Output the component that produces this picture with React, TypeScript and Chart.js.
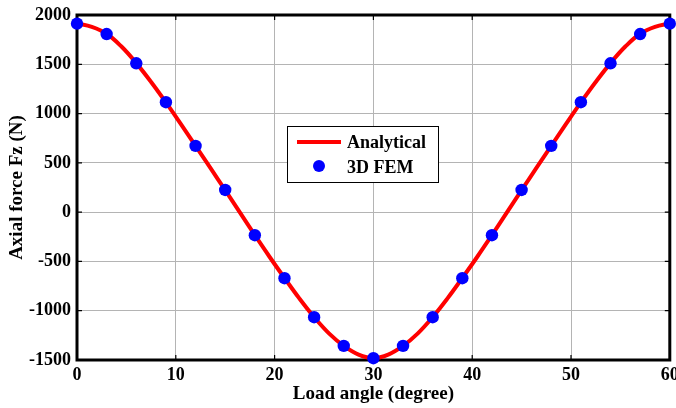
import React, { useEffect, useRef } from "react";
import { Chart, registerables } from "chart.js";
Chart.register(...registerables);

const xTitle = "Load angle (degree)";
const yTitle = "Axial force Fz (N)";
const seriesNames = ["Analytical", "3D FEM"];

const femAngles = [0, 3, 6, 9, 12, 15, 18, 21, 24, 27, 30, 33, 36, 39, 42, 45, 48, 51, 54, 57, 60];
const femForce = [1912, 1807, 1510, 1115, 672, 225, -234, -670, -1066, -1357, -1482, -1357, -1066, -670, -234, 225, 672, 1115, 1510, 1807, 1912];

const analyticAngles = [
  0, 1.5, 3, 4.5, 6, 7.5, 9, 10.5, 12, 13.5, 15, 16.5, 18, 19.5, 21, 22.5, 24, 25.5, 27, 28.5, 30,
  31.5, 33, 34.5, 36, 37.5, 39, 40.5, 42, 43.5, 45, 46.5, 48, 49.5, 51, 52.5, 54, 55.5, 57, 58.5, 60,
];
const analyticForce = [
  1915, 1880, 1810, 1680, 1512, 1320, 1113, 895, 672, 448, 223, -5, -233, -455, -668, -875, -1065, -1230, -1357, -1445, -1482,
  -1445, -1357, -1230, -1065, -875, -668, -455, -233, -5, 223, 448, 672, 895, 1113, 1320, 1512, 1680, 1810, 1880, 1915,
];

const FONT = "'Liberation Serif', 'Times New Roman', serif";

export default function App() {
  const ref = useRef<HTMLCanvasElement | null>(null);
  useEffect(() => {
    document.body.style.margin = "0";
    const canvas = ref.current!;
    const framePlugin = {
      id: "frame",
      beforeDatasetsDraw(chart: any) {
        const { ctx, chartArea: a, scales } = chart;
        ctx.save();
        ctx.strokeStyle = "#000";
        ctx.lineWidth = 1.2;
        const tl = 5;
        scales.x.ticks.forEach((t: any) => {
          const px = scales.x.getPixelForValue(t.value);
          ctx.beginPath();
          ctx.moveTo(px, a.bottom);
          ctx.lineTo(px, a.bottom - tl);
          ctx.moveTo(px, a.top);
          ctx.lineTo(px, a.top + tl);
          ctx.stroke();
        });
        scales.y.ticks.forEach((t: any) => {
          const py = scales.y.getPixelForValue(t.value);
          ctx.beginPath();
          ctx.moveTo(a.left, py);
          ctx.lineTo(a.left + tl, py);
          ctx.moveTo(a.right, py);
          ctx.lineTo(a.right - tl, py);
          ctx.stroke();
        });
        ctx.lineWidth = 3;
        ctx.strokeRect(a.left, a.top, a.right - a.left, a.bottom - a.top);
        ctx.restore();
      },
      afterDraw(chart: any) {
        const { ctx } = chart;
        ctx.save();
        ctx.fillStyle = "#fff";
        ctx.fillRect(287, 126, 151, 56);
        ctx.strokeStyle = "#000";
        ctx.lineWidth = 1;
        ctx.strokeRect(287.5, 126.5, 151, 56);
        ctx.strokeStyle = "#ff0000";
        ctx.lineWidth = 4;
        ctx.beginPath();
        ctx.moveTo(297, 142);
        ctx.lineTo(341, 142);
        ctx.stroke();
        ctx.fillStyle = "#0000ff";
        ctx.beginPath();
        ctx.arc(319, 166, 6, 0, Math.PI * 2);
        ctx.fill();
        ctx.fillStyle = "#000";
        ctx.font = `bold 18px ${FONT}`;
        ctx.textBaseline = "middle";
        ctx.fillText(seriesNames[0], 347, 143);
        ctx.fillText(seriesNames[1], 347, 168);
        ctx.restore();
      },
    };
    const chart = new Chart(canvas, {
      type: "scatter",
      data: {
        datasets: [
          {
            label: seriesNames[1],
            data: femAngles.map((x, i) => ({ x, y: femForce[i] })),
            showLine: false,
            pointRadius: 6.2,
            pointHoverRadius: 6.2,
            backgroundColor: "#0000ff",
            borderColor: "#0000ff",
            borderWidth: 0,
            clip: false as any,
            order: 1,
          },
          {
            label: seriesNames[0],
            data: analyticAngles.map((x, i) => ({ x, y: analyticForce[i] })),
            showLine: true,
            pointRadius: 0,
            borderColor: "#ff0000",
            backgroundColor: "#ff0000",
            borderWidth: 4,
            tension: 0.4,
            clip: false as any,
            order: 2,
          },
        ],
      },
      options: {
        animation: false,
        responsive: false,
        devicePixelRatio: 1,
        layout: { padding: { top: 15, right: 6, left: 0, bottom: 0 } },
        plugins: { legend: { display: false }, tooltip: { enabled: false } },
        scales: {
          x: {
            type: "linear",
            min: 0,
            max: 60,
            ticks: {
              stepSize: 10,
              color: "#000",
              padding: 5,
              font: { family: FONT, size: 18, weight: "bold" },
              callback: (v: any) => String(v),
            },
            grid: { color: "#b4b4b4", lineWidth: 1, drawTicks: false },
            border: { display: false },
            title: {
              display: true,
              text: xTitle,
              color: "#000",
              font: { family: FONT, size: 19, weight: "bold" },
              padding: { top: 0, bottom: 3 },
            },
            afterFit: (s: any) => {
              s.height = 48;
              s.paddingLeft = 0;
              s.paddingRight = 0;
            },
          },
          y: {
            type: "linear",
            min: -1500,
            max: 2000,
            ticks: {
              stepSize: 500,
              color: "#000",
              padding: 6,
              font: { family: FONT, size: 18, weight: "bold" },
              callback: (v: any) => String(v),
            },
            grid: { color: "#b4b4b4", lineWidth: 1, drawTicks: false },
            border: { display: false },
            title: {
              display: true,
              text: yTitle,
              color: "#000",
              font: { family: FONT, size: 19, weight: "bold" },
              padding: { top: 6, bottom: 0 },
            },
            afterFit: (s: any) => {
              s.width = 77;
              s.paddingTop = 0;
              s.paddingBottom = 0;
            },
          },
        },
      },
      plugins: [framePlugin],
    });
    return () => chart.destroy();
  }, []);
  return <canvas ref={ref} width={676} height={408} style={{ display: "block" }} />;
}
